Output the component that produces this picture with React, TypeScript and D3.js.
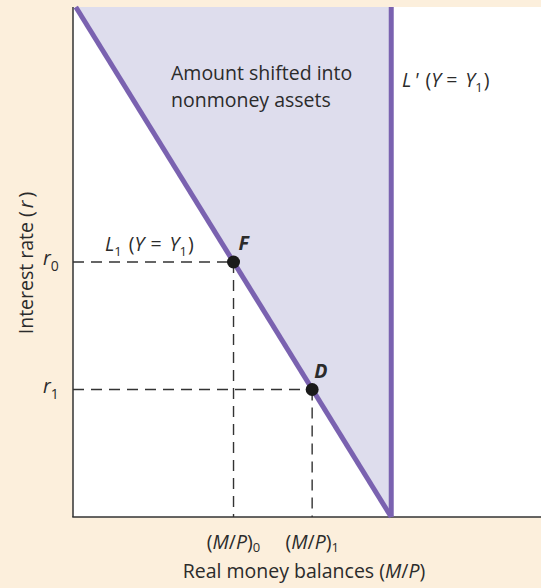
import React from 'react'
import * as d3 from 'd3'

// abstract units: x 0..100 across plot, y (interest rate) 0..100
const demandLine = [
  { x: 0.6, y: 100 },
  { x: 68, y: 0 },
]
const fixedDemandX = 68
const points = [
  { name: 'F', x: 34.3, y: 50 },
  { name: 'D', x: 51.1, y: 25 },
]

const W = 541
const H = 588
const margin = { top: 7, right: 0, bottom: 70, left: 73 }

const FONT = '"Open Sans", Lato, sans-serif'
const TEXT = '#2b2b2b'
const PURPLE = '#7a62b0'
const FILL = '#dedded'
const BG = '#fcefdc'

export default function App() {
  const x = d3.scaleLinear().domain([0, 100]).range([margin.left, W - margin.right])
  const y = d3.scaleLinear().domain([0, 100]).range([H - margin.bottom - 1, margin.top])

  const line = d3.line<{ x: number; y: number }>().x(d => x(d.x)).y(d => y(d.y))

  // shaded area between L1 and L'
  const area = [
    demandLine[0],
    { x: fixedDemandX, y: 100 },
    { x: fixedDemandX, y: 0 },
    demandLine[1],
  ]

  const F = points[0]
  const D = points[1]

  return (
    <div style={{ position: 'fixed', left: 0, top: 0 }}>
      <svg width={W} height={H} style={{ display: 'block', fontFamily: FONT }}>
        <rect width={W} height={H} fill={BG} />
        <rect x={margin.left} y={margin.top} width={W - margin.left} height={y(0) - margin.top} fill="#fff" />

        <path d={line(area) + 'Z'} fill={FILL} />

        {/* dashed guides */}
        {points.map(p => (
          <g key={p.name} stroke="#333" strokeWidth={1.4} strokeDasharray="11,7" fill="none">
            <line x1={x(0)} x2={x(p.x)} y1={y(p.y)} y2={y(p.y)} />
            <line x1={x(p.x)} x2={x(p.x)} y1={y(p.y)} y2={y(0)} />
          </g>
        ))}

        {/* axes */}
        <line x1={x(0)} x2={x(0)} y1={margin.top} y2={y(0)} stroke="#333" strokeWidth={1.5} />
        <line x1={x(0) - 0.75} x2={W} y1={y(0)} y2={y(0)} stroke="#333" strokeWidth={1.5} />

        {/* curves */}
        <path d={line(demandLine) ?? ''} fill="none" stroke={PURPLE} strokeWidth={5} />
        <line x1={x(fixedDemandX)} x2={x(fixedDemandX)} y1={margin.top} y2={y(0)} stroke={PURPLE} strokeWidth={5} />

        {points.map(p => (
          <circle key={p.name} cx={x(p.x)} cy={y(p.y)} r={6.5} fill="#1a1a1a" />
        ))}

        <g fill={TEXT} fontSize={19.5}>
          <text x={x(F.x) + 5} y={y(F.y) - 12} fontWeight="bold" fontStyle="italic">F</text>
          <text x={x(D.x) + 2} y={y(D.y) - 12} fontWeight="bold" fontStyle="italic">D</text>

          <text x={171} y={80}>Amount shifted into</text>
          <text x={171} y={107}>nonmoney assets</text>

          <text x={402} y={87}>
            <tspan fontStyle="italic">L</tspan>
            <tspan dx={3} fontStyle="italic">'</tspan>
            <tspan dx={7}>(</tspan>
            <tspan fontStyle="italic">Y</tspan>
            <tspan dx={5}>=</tspan>
            <tspan dx={8} fontStyle="italic">Y</tspan>
            <tspan fontSize={13} dy={5}>1</tspan>
            <tspan dy={-5} dx={1}>)</tspan>
          </text>

          <text x={105} y={251}>
            <tspan fontStyle="italic">L</tspan>
            <tspan fontSize={13} dy={5}>1</tspan>
            <tspan dy={-5} dx={7}>(</tspan>
            <tspan fontStyle="italic">Y</tspan>
            <tspan dx={6}>=</tspan>
            <tspan dx={8} fontStyle="italic">Y</tspan>
            <tspan fontSize={13} dy={5}>1</tspan>
            <tspan dy={-5} dx={1}>)</tspan>
          </text>

          <text x={43} y={y(F.y) + 3}>
            <tspan fontStyle="italic">r</tspan>
            <tspan fontSize={14} dy={6}>0</tspan>
          </text>
          <text x={43} y={y(D.y) + 3}>
            <tspan fontStyle="italic">r</tspan>
            <tspan fontSize={14} dy={6}>1</tspan>
          </text>

          <text x={x(F.x)} y={549} textAnchor="middle">
            <tspan>(</tspan>
            <tspan fontStyle="italic">M</tspan>
            <tspan>/</tspan>
            <tspan fontStyle="italic">P</tspan>
            <tspan>)</tspan>
            <tspan fontSize={13} dy={3}>0</tspan>
          </text>
          <text x={x(D.x)} y={549} textAnchor="middle">
            <tspan>(</tspan>
            <tspan fontStyle="italic">M</tspan>
            <tspan>/</tspan>
            <tspan fontStyle="italic">P</tspan>
            <tspan>)</tspan>
            <tspan fontSize={13} dy={3}>1</tspan>
          </text>

          <text x={304} y={578} textAnchor="middle">
            <tspan>Real money balances (</tspan>
            <tspan fontStyle="italic">M</tspan>
            <tspan>/</tspan>
            <tspan fontStyle="italic">P</tspan>
            <tspan>)</tspan>
          </text>

          <text transform={`translate(33, 263) rotate(-90)`} textAnchor="middle">
            <tspan>Interest rate (</tspan>
            <tspan fontStyle="italic" dx={3}>r</tspan>
            <tspan dx={3}>)</tspan>
          </text>
        </g>
      </svg>
    </div>
  )
}
